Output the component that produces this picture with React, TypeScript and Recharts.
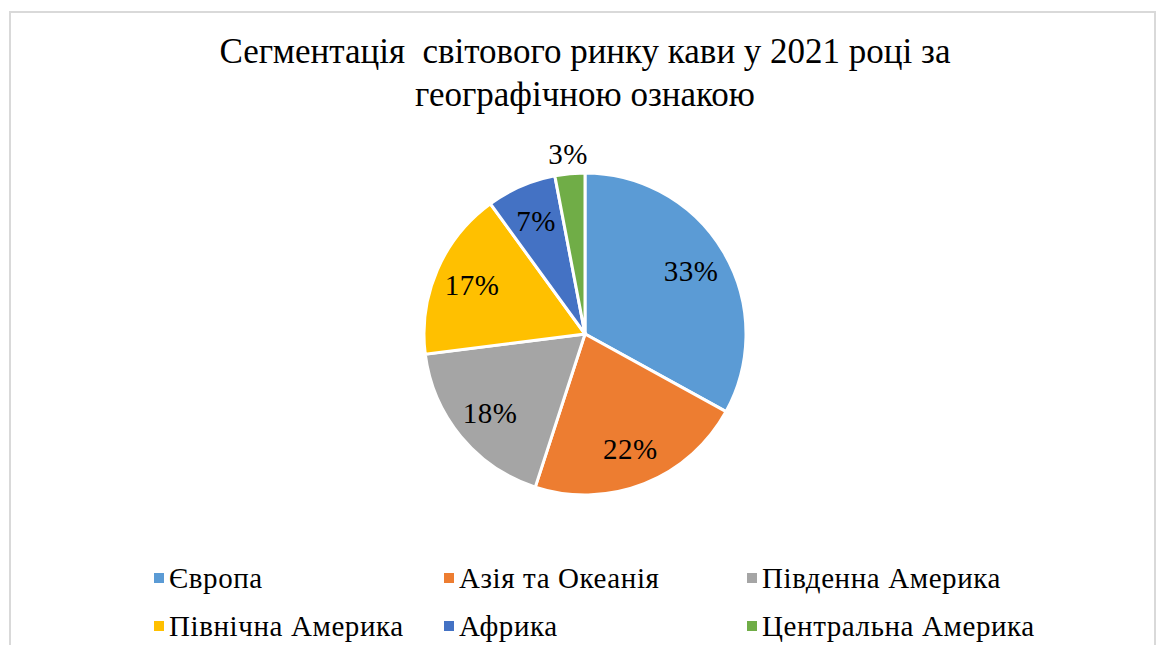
import { PieChart, Pie, Cell, Legend } from 'recharts'

const regions = ['Європа', 'Азія та Океанія', 'Південна Америка', 'Північна Америка', 'Африка', 'Центральна Америка']
const shares = [33, 22, 18, 17, 7, 3]
const colors = ['#5B9BD5', '#ED7D31', '#A5A5A5', '#FFC000', '#4472C4', '#70AD47']
const titleLines = ['Сегментація  світового ринку кави у 2021 році за', 'географічною ознакою']

const data = regions.map((name, i) => ({ name, value: shares[i] }))

const FONT = '"Liberation Serif", "Times New Roman", "DejaVu Serif", serif'
const RAD = Math.PI / 180

function renderLabel(props: any) {
  const { cx, cy, midAngle, outerRadius, percent, value } = props
  const r = percent < 0.05 ? outerRadius + 20 : outerRadius * 0.765
  const x = cx + r * Math.cos(-midAngle * RAD)
  const y = cy + r * Math.sin(-midAngle * RAD)
  return (
    <text
      x={x}
      y={y}
      textAnchor="middle"
      dominantBaseline="central"
      style={{ fontFamily: FONT, fontSize: 29, letterSpacing: 0.5 }}
      fill="#000"
    >
      {value}%
    </text>
  )
}

function LegendBox(props: any) {
  const items = props.payload || []
  return (
    <div
      style={{
        display: 'grid',
        gridTemplateColumns: '290px 303px auto',
        fontFamily: FONT,
        fontSize: 29,
        color: '#000',
      }}
    >
      {items.map((it: any) => (
        <div key={it.value} style={{ display: 'flex', alignItems: 'center', height: 48 }}>
          <span style={{ width: 10, height: 10, background: it.color, marginRight: 5, display: 'inline-block' }} />
          <span style={{ fontFamily: FONT, fontSize: 29, letterSpacing: 0.6 }}>{it.value}</span>
        </div>
      ))}
    </div>
  )
}

export default function App() {
  return (
    <div style={{ margin: -8, width: 1166, height: 653, position: 'relative', overflow: 'hidden', background: '#fff' }}>
      <div
        style={{
          position: 'absolute',
          left: 9,
          top: 11,
          width: 1147,
          height: 700,
          border: '2px solid #d9d9d9',
          boxSizing: 'border-box',
        }}
      />
      <div
        style={{
          position: 'absolute',
          left: 0,
          top: 30,
          width: 1170,
          textAlign: 'center',
          fontFamily: FONT,
          fontSize: 35,
          lineHeight: '43px',
          color: '#000',
          whiteSpace: 'pre',
        }}
      >
        {titleLines.map((l) => (
          <div key={l}>{l}</div>
        ))}
      </div>
      <div style={{ position: 'absolute', left: 0, top: 0 }}>
        <PieChart width={1166} height={653} margin={{ top: 0, right: 0, bottom: 0, left: 0 }}>
          <Pie
            data={data}
            dataKey="value"
            nameKey="name"
            cx={585}
            cy={334}
            outerRadius={161}
            startAngle={90}
            endAngle={-270}
            stroke="#fff"
            strokeWidth={3}
            label={renderLabel}
            labelLine={false}
            isAnimationActive={false}
          >
            {data.map((d, i) => (
              <Cell key={d.name} fill={colors[i]} />
            ))}
          </Pie>
          <Legend
            content={<LegendBox />}
            itemSorter={null}
            wrapperStyle={{ position: 'absolute', left: 154, top: 554, width: 1000 }}
          />
        </PieChart>
      </div>
    </div>
  )
}
